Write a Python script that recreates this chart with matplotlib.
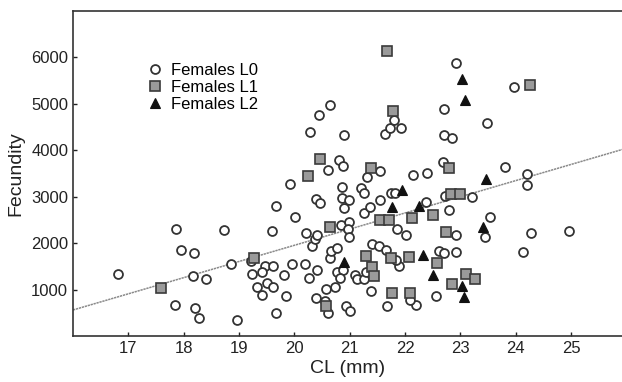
import matplotlib
matplotlib.use("Agg")
import matplotlib.pyplot as plt

plt.rcParams['font.family'] = ['Liberation Sans', 'DejaVu Sans']

# Females L0 (open circles)
l0_cl = [16.82, 17.86, 17.95, 18.19, 18.17, 18.40, 17.85, 18.20, 18.28, 18.73,
         18.85, 18.97, 19.21, 19.23, 19.33, 19.41, 19.47, 19.41, 19.50, 19.61,
         19.62, 19.66, 19.59, 19.66, 19.92, 20.01, 19.81, 19.85, 19.96, 20.21,
         20.20, 20.27, 20.39, 20.41, 20.32, 20.38, 20.41, 20.39, 20.46, 20.58,
         20.73, 20.65, 20.67, 20.77, 20.55, 20.60, 20.61, 20.29, 20.45, 20.64,
         20.81, 20.90, 20.87, 20.86, 21.21, 21.32, 20.86, 20.98, 20.90, 21.26,
         21.37, 21.26, 20.84, 20.98, 20.96, 20.99, 20.77, 20.87, 20.82, 21.09,
         21.14, 21.25, 21.30, 21.39, 20.93, 21.01, 21.41, 21.53, 21.65, 21.54,
         21.64, 21.72, 21.80, 21.92, 22.92, 22.70, 22.71, 22.85, 22.68, 22.14,
         22.39, 23.48, 23.96, 23.81, 24.21, 24.21, 23.21, 22.73, 22.80, 23.54,
         23.45, 24.28, 24.96, 24.14, 22.92, 22.92, 22.61, 22.70, 22.56, 22.19,
         22.09, 21.68, 21.89, 21.83, 22.01, 21.85, 22.38, 21.75, 21.81, 21.55]
l0_fec = [1334, 2296, 1851, 1786, 1291, 1227, 661, 609, 387, 2281,
          1549, 344, 1614, 1328, 1061, 889, 1506, 1371, 1147, 1506,
          1048, 489, 2266, 2804, 3271, 2567, 1319, 867, 1556, 2223,
          1549, 1248, 811, 1420, 1943, 2094, 2167, 2948, 2869, 1011,
          1044, 1679, 1829, 1894, 753, 501, 3566, 4397, 4756, 4971,
          3788, 4326, 3658, 3206, 3185, 3428, 2959, 2927, 2744, 2641,
          2776, 3071, 2399, 2453, 2303, 2137, 1377, 1410, 1248, 1302,
          1227, 1227, 1367, 979, 646, 538, 1980, 1937, 1851, 3557,
          4347, 4470, 4648, 4470, 5869, 4879, 4326, 4261, 3751, 3465,
          3508, 4590, 5352, 3643, 3493, 3256, 2985, 3013, 2712, 2554,
          2137, 2223, 2266, 1801, 2167, 1801, 1829, 1780, 861, 667,
          775, 652, 1506, 1636, 2174, 2296, 2890, 3071, 3084, 2916]

# Females L1 (grey squares)
l1_cl = [17.59, 19.27, 20.24, 20.64, 20.46, 20.58, 21.67, 21.78, 21.38, 22.80,
         24.26, 22.83, 23.00, 22.74, 21.54, 21.71, 22.12, 22.50, 21.29, 21.41,
         21.43, 21.74, 22.08, 22.58, 23.10, 23.27, 22.85, 21.76, 22.09]
l1_fec = [1039, 1668, 3439, 2356, 3803, 639, 6127, 4842, 3609, 3622,
          5402, 3052, 3052, 2238, 2496, 2496, 2539, 2597, 1722, 1491,
          1291, 1685, 1707, 1564, 1330, 1227, 1113, 936, 936]

# Females L2 (black triangles)
l2_cl = [23.03, 23.09, 23.47, 21.94, 21.77, 22.26, 23.40, 20.90, 22.32, 22.50, 23.03, 23.07]
l2_fec = [5524, 5079, 3379, 3148, 2776, 2802, 2339, 1592, 1739, 1302, 1072, 839]

# fitted line
line_slope = 348
line_intercept = -5008

x_ticks = [17, 18, 19, 20, 21, 22, 23, 24, 25]
y_ticks = [1000, 2000, 3000, 4000, 5000, 6000]
x_range = [16, 25.92]
y_range = [0, 7000]

fig = plt.figure(figsize=(6.22, 3.82), dpi=100)
ax = fig.add_axes([0.1174, 0.1204, 0.8826, 0.8516])

ax.plot(x_range, [line_slope * v + line_intercept for v in x_range],
        color='#8a8a8a', lw=1.1, ls=(0, (1.5, 0.5)), zorder=1)

ax.plot(l0_cl, l0_fec, 'o', ms=6.4, mfc='white', mec='#333333', mew=1.3,
        label='Females L0', zorder=2)
ax.plot(l1_cl, l1_fec, 's', ms=7.2, mfc='#9a9a9a', mec='#3a3a3a', mew=1.2,
        label='Females L1', zorder=3)
ax.plot(l2_cl, l2_fec, '^', ms=7.2, mfc='#111111', mec='#111111', mew=0.8,
        label='Females L2', zorder=4)

ax.set_xlim(x_range)
ax.set_ylim(y_range)
ax.set_xticks(x_ticks)
ax.set_yticks(y_ticks)
ax.tick_params(direction='in', length=3, width=1, labelsize=12, colors='#222222')
ax.spines['right'].set_visible(False)
for s in ['left', 'bottom', 'top']:
    ax.spines[s].set_linewidth(1.2)
    ax.spines[s].set_color('#333333')

ax.set_xlabel('CL (mm)', fontsize=14, color='#222222', labelpad=3)
ax.set_ylabel('Fecundity', fontsize=14, color='#222222', labelpad=5)

ax.legend(loc='upper left', bbox_to_anchor=(0.112, 0.865), frameon=False,
          fontsize=12, handletextpad=0.2, labelspacing=0.12, borderpad=0,
          handlelength=1.5)

fig.savefig('out.png', dpi=100)
